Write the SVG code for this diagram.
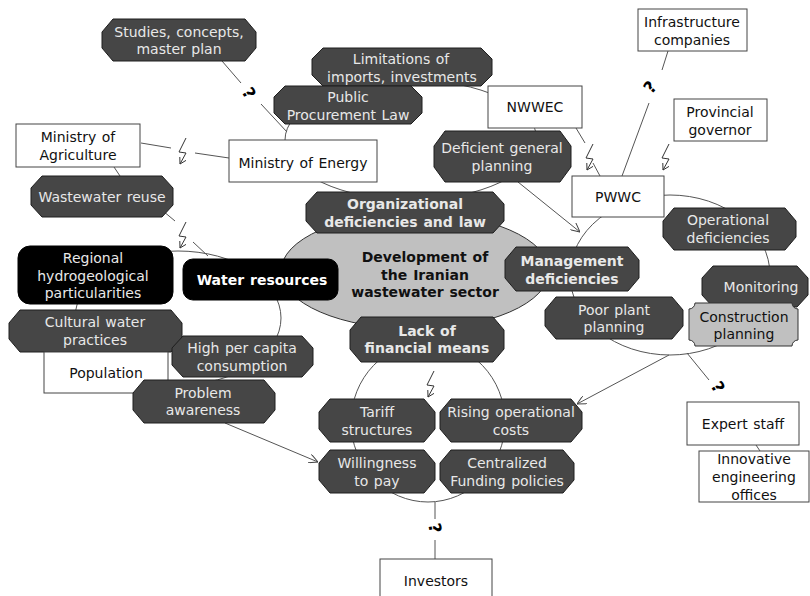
<svg xmlns="http://www.w3.org/2000/svg" width="810" height="596" viewBox="0 0 810 596">
<defs>
<style>
.oct{fill:#464646;stroke:#1e1e1e;stroke-width:1}
.box{fill:#fff;stroke:#444;stroke-width:1}
.blk{fill:#000;stroke:#000;stroke-width:1}
.t{font-family:"DejaVu Sans","Liberation Sans",sans-serif;font-size:14px;text-anchor:middle;word-spacing:1px}
.lt{fill:#e8e8e8}
.dk{fill:#111}
.b{font-weight:bold}
.con{fill:none;stroke:#555;stroke-width:1}
.bolt{fill:none;stroke:#333;stroke-width:1}
.q{font-family:"DejaVu Sans",sans-serif;font-weight:bold;font-size:17px;fill:#000;text-anchor:middle}
</style>
<marker id="arr" viewBox="0 0 10 10" refX="10" refY="5" markerWidth="9" markerHeight="9" markerUnits="userSpaceOnUse" orient="auto">
<path d="M0,0 L10,5 L0,10" fill="none" stroke="#444" stroke-width="1.1"/>
</marker>
<path id="bolt" class="bolt" d="M6,-26 L-1,-12 L6,-11 L0,0 M6,-3.6 L0,0 L-0.2,-7"/>
</defs>

<g id="connectors">
<ellipse class="con" cx="411" cy="140" rx="126" ry="60"/>
<ellipse class="con" cx="178" cy="318" rx="103" ry="67"/>
<ellipse class="con" cx="670" cy="275" rx="100" ry="80"/>
<ellipse class="con" cx="428" cy="422" rx="77" ry="80"/>
<line class="con" x1="222" y1="61" x2="241" y2="83"/>
<line class="con" x1="261" y1="104" x2="287" y2="132"/>
<line class="con" x1="114" y1="167" x2="120" y2="176"/>
<line class="con" x1="141" y1="143" x2="171" y2="148"/>
<line class="con" x1="195" y1="153" x2="229" y2="158"/>
<line class="con" x1="163" y1="211" x2="175" y2="221"/>
<line class="con" x1="193" y1="242" x2="208" y2="256"/>
<line class="con" x1="576" y1="128" x2="585" y2="143"/>
<line class="con" x1="593" y1="163" x2="600" y2="176"/>
<line class="con" x1="668" y1="51" x2="662" y2="70"/>
<line class="con" x1="649" y1="103" x2="622" y2="176"/>
<line class="con" x1="518" y1="182" x2="580" y2="232" marker-end="url(#arr)"/>
<line class="con" x1="669" y1="355" x2="577" y2="404" marker-end="url(#arr)"/>
<line class="con" x1="687" y1="353" x2="709" y2="380"/>
<line class="con" x1="225" y1="423" x2="318" y2="462" marker-end="url(#arr)"/>
<line class="con" x1="435" y1="502" x2="435" y2="519"/>
<line class="con" x1="435" y1="540" x2="435" y2="559"/>
<line class="con" x1="756" y1="445" x2="760" y2="451"/>
<use href="#bolt" transform="translate(180,164)"/>
<use href="#bolt" transform="translate(180,248)"/>
<use href="#bolt" transform="translate(587,170)"/>
<use href="#bolt" transform="translate(663,170)"/>
<use href="#bolt" transform="translate(428,397)"/>
<text class="q" transform="translate(249,93) rotate(60)" x="0" y="6">?</text>
<text class="q" transform="translate(650,87) rotate(-50)" x="0" y="6">?</text>
<text class="q" transform="translate(718,387) rotate(60)" x="0" y="6">?</text>
<text class="q" transform="translate(435,528) rotate(80)" x="0" y="6">?</text>
</g>

<g id="center">
<ellipse cx="415" cy="271" rx="134" ry="58" fill="#c0c0c0" stroke="#333" stroke-width="1"/>
<text class="t b dk"><tspan x="425" y="262">Development of</tspan><tspan x="425" y="280">the Iranian</tspan><tspan x="425" y="297">wastewater sector</tspan></text>
</g>

<g id="studies">
<path class="oct" d="M113,19 H245 L256,32 V48 L245,61 H113 L102,48 V32 Z"/>
<text class="t lt"><tspan x="179" y="37">Studies, concepts,</tspan><tspan x="179" y="54">master plan</tspan></text>
</g>
<g id="limitations">
<path class="oct" d="M323,48 H481 L492,59 V75 L481,86 H323 L312,75 V59 Z"/>
<text class="t lt"><tspan x="401" y="64">Limitations of</tspan><tspan x="402" y="82">imports, investments</tspan></text>
</g>
<g id="procurement">
<path class="oct" d="M285,86 H411 L422,97 V113 L411,124 H285 L274,113 V97 Z"/>
<text class="t lt"><tspan x="348" y="102">Public</tspan><tspan x="348" y="120">Procurement Law</tspan></text>
</g>
<g id="nwwec">
<rect class="box" x="488" y="86" width="94" height="42"/>
<text class="t dk" x="535" y="112">NWWEC</text>
</g>
<g id="energy">
<rect class="box" x="229" y="140" width="148" height="42"/>
<text class="t dk" x="303" y="168">Ministry of Energy</text>
</g>
<g id="agriculture">
<rect class="box" x="16" y="124" width="124" height="43"/>
<text class="t dk"><tspan x="78" y="142">Ministry of</tspan><tspan x="78" y="160">Agriculture</tspan></text>
</g>
<g id="reuse">
<path class="oct" d="M42,176 H162 L173,188 V205 L162,217 H42 L31,205 V188 Z"/>
<text class="t lt" x="102" y="202">Wastewater reuse</text>
</g>
<g id="deficient">
<path class="oct" d="M445,131 H560 L571,146 V167 L560,182 H445 L434,167 V146 Z"/>
<text class="t lt"><tspan x="502" y="153">Deficient general</tspan><tspan x="502" y="171">planning</tspan></text>
</g>
<g id="organizational">
<path class="oct" d="M317,192 H493 L504,204 V221 L493,233 H317 L306,221 V204 Z"/>
<text class="t b lt"><tspan x="405" y="209">Organizational</tspan><tspan x="405" y="227">deficiencies and law</tspan></text>
</g>
<g id="water">
<rect class="blk" x="183" y="259" width="155" height="41" rx="10"/>
<text class="t b" fill="#fff" x="262" y="285">Water resources</text>
</g>
<g id="regional">
<rect class="blk" x="18" y="246" width="155" height="58" rx="12"/>
<text class="t lt"><tspan x="93" y="263">Regional</tspan><tspan x="93" y="281">hydrogeological</tspan><tspan x="93" y="298">particularities</tspan></text>
</g>
<g id="cultural">
<path class="oct" d="M20,310 H171 L182,323 V339 L171,352 H20 L9,339 V323 Z"/>
<text class="t lt"><tspan x="95" y="327">Cultural water</tspan><tspan x="95" y="345">practices</tspan></text>
</g>
<g id="population">
<rect class="box" x="44" y="352" width="124" height="41"/>
<text class="t dk" x="106" y="378">Population</text>
</g>
<g id="highcapita">
<path class="oct" d="M183,336 H302 L313,348 V365 L302,377 H183 L172,365 V348 Z"/>
<text class="t lt"><tspan x="242" y="353">High per capita</tspan><tspan x="242" y="371">consumption</tspan></text>
</g>
<g id="awareness">
<path class="oct" d="M144,380 H264 L275,393 V410 L264,423 H144 L133,410 V393 Z"/>
<text class="t lt"><tspan x="203" y="398">Problem</tspan><tspan x="203" y="415">awareness</tspan></text>
</g>
<g id="financial">
<path class="oct" d="M361,317 H493 L504,330 V349 L493,362 H361 L350,349 V330 Z"/>
<text class="t b lt"><tspan x="427" y="336">Lack of</tspan><tspan x="427" y="353">financial means</tspan></text>
</g>
<g id="management">
<path class="oct" d="M516,247 H628 L639,260 V278 L628,291 H516 L505,278 V260 Z"/>
<text class="t b lt"><tspan x="572" y="266">Management</tspan><tspan x="572" y="284">deficiencies</tspan></text>
</g>
<g id="pwwc">
<rect class="box" x="572" y="176" width="92" height="41"/>
<text class="t dk" x="618" y="202">PWWC</text>
</g>
<g id="operational">
<path class="oct" d="M674,208 H785 L796,221 V237 L785,250 H674 L663,237 V221 Z"/>
<text class="t lt"><tspan x="728" y="225">Operational</tspan><tspan x="728" y="243">deficiencies</tspan></text>
</g>
<g id="monitoring">
<path class="oct" d="M713,266 H797 L808,278 V295 L797,307 H713 L702,295 V278 Z"/>
<text class="t lt" x="761" y="292">Monitoring</text>
</g>
<g id="construction">
<path d="M695,303 H792 A6,6 0 0 0 798,309 V340 A6,6 0 0 0 792,346 H695 A6,6 0 0 0 689,340 V309 A6,6 0 0 0 695,303 Z" fill="#c0c0c0" stroke="#333" stroke-width="1"/>
<text class="t dk"><tspan x="744" y="322">Construction</tspan><tspan x="744" y="339">planning</tspan></text>
</g>
<g id="poorplant">
<path class="oct" d="M556,297 H672 L683,310 V326 L672,339 H556 L545,326 V310 Z"/>
<text class="t lt"><tspan x="614" y="315">Poor plant</tspan><tspan x="614" y="332">planning</tspan></text>
</g>
<g id="expert">
<rect class="box" x="687" y="402" width="112" height="43"/>
<text class="t dk" x="743" y="429">Expert staff</text>
</g>
<g id="innovative">
<rect class="box" x="699" y="451" width="110" height="51"/>
<text class="t dk"><tspan x="754" y="464">Innovative</tspan><tspan x="754" y="482">engineering</tspan><tspan x="754" y="500">offices</tspan></text>
</g>
<g id="infrastructure">
<rect class="box" x="638" y="9" width="109" height="42"/>
<text class="t dk"><tspan x="692" y="27">Infrastructure</tspan><tspan x="692" y="45">companies</tspan></text>
</g>
<g id="governor">
<rect class="box" x="674" y="99" width="93" height="42"/>
<text class="t dk"><tspan x="720" y="117">Provincial</tspan><tspan x="720" y="135">governor</tspan></text>
</g>
<g id="rising">
<path class="oct" d="M451,399 H571 L582,412 V429 L571,442 H451 L440,429 V412 Z"/>
<text class="t lt"><tspan x="511" y="417">Rising operational</tspan><tspan x="511" y="435">costs</tspan></text>
</g>
<g id="tariff">
<path class="oct" d="M330,399 H424 L435,412 V429 L424,442 H330 L319,429 V412 Z"/>
<text class="t lt"><tspan x="377" y="417">Tariff</tspan><tspan x="377" y="435">structures</tspan></text>
</g>
<g id="willingness">
<path class="oct" d="M330,450 H424 L435,463 V480 L424,493 H330 L319,480 V463 Z"/>
<text class="t lt"><tspan x="377" y="468">Willingness</tspan><tspan x="377" y="486">to pay</tspan></text>
</g>
<g id="centralized">
<path class="oct" d="M451,450 H563 L574,463 V480 L563,493 H451 L440,480 V463 Z"/>
<text class="t lt"><tspan x="507" y="468">Centralized</tspan><tspan x="507" y="486">Funding policies</tspan></text>
</g>
<g id="investors">
<rect class="box" x="380" y="559" width="112" height="45"/>
<text class="t dk" x="436" y="586">Investors</text>
</g>
</svg>
